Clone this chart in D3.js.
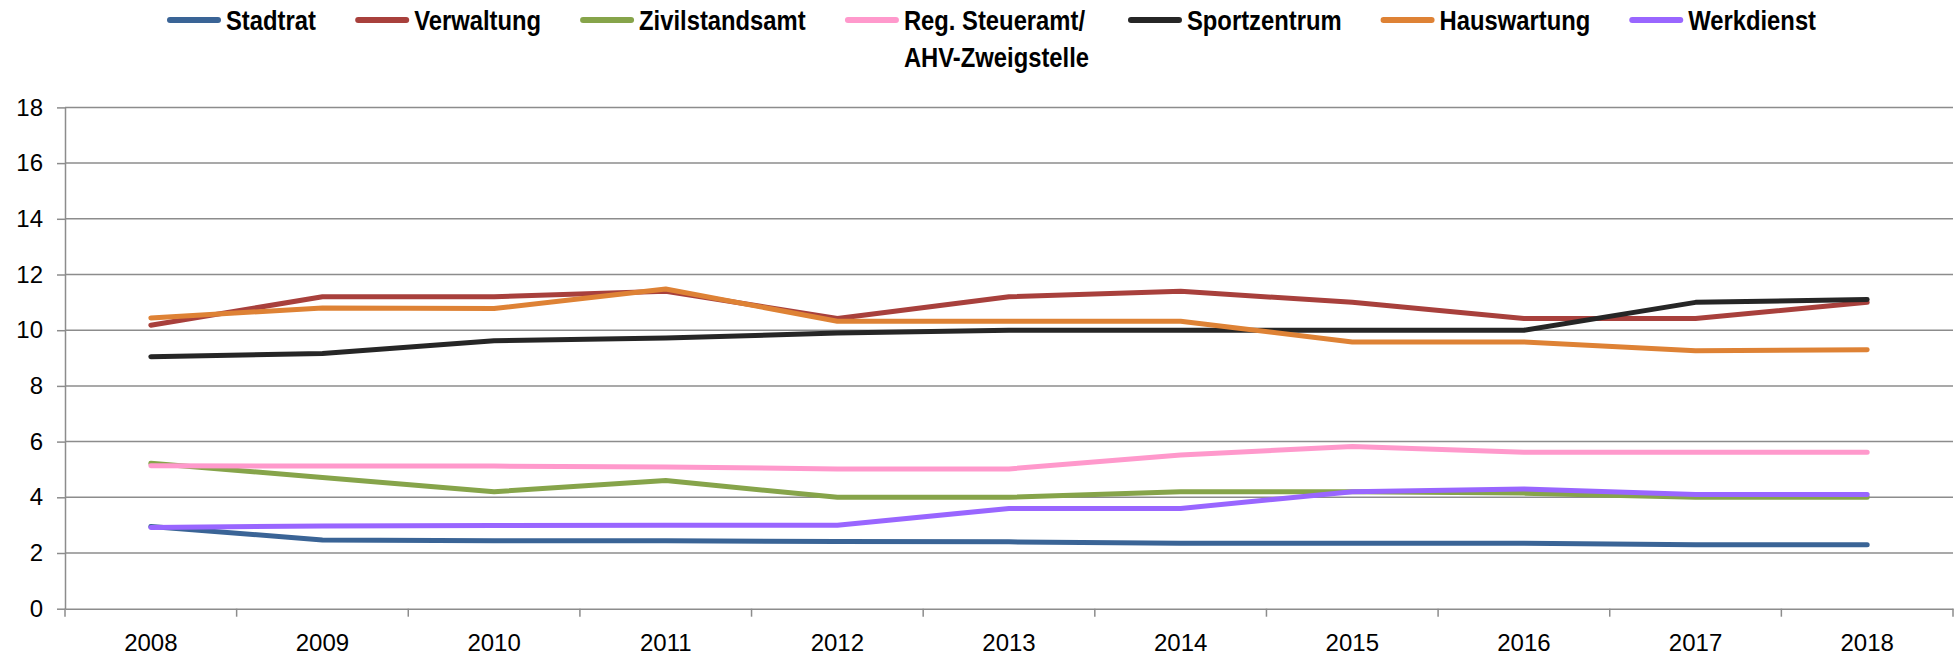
<!DOCTYPE html>
<html>
<head>
<meta charset="utf-8">
<script src="https://cdn.jsdelivr.net/npm/d3@7"></script>
<style>
  body { margin: 0; background: #fff; }
  svg text { font-family: "Liberation Sans", Arial, sans-serif; }
  .grid line { stroke: #8c8c8c; stroke-width: 1.5; }
  .axis path, .axis line { stroke: #8c8c8c; stroke-width: 1.5; }
  .axis text { font-size: 24px; fill: #000; }
  .legend text { font-weight: bold; font-size: 28px; }
  .line { fill: none; stroke-width: 5; stroke-linejoin: round; stroke-linecap: round; }
</style>
</head>
<body>
<div id="chart"></div>
<script>
// Stellenprozente pro Abteilung 2008-2018

const years = ["2008", "2009", "2010", "2011", "2012", "2013", "2014", "2015", "2016", "2017", "2018"];

const stadtrat      = [2.95, 2.47, 2.44, 2.44, 2.41, 2.40, 2.35, 2.35, 2.35, 2.30, 2.30];
const verwaltung    = [10.18, 11.2, 11.2, 11.4, 10.42, 11.2, 11.4, 11.0, 10.42, 10.42, 11.0];
const zivilstandsamt = [5.22, 4.71, 4.2, 4.6, 4.0, 4.0, 4.2, 4.2, 4.15, 4.0, 4.0];
const steueramt     = [5.13, 5.12, 5.12, 5.09, 5.02, 5.02, 5.52, 5.82, 5.62, 5.62, 5.62];
const sportzentrum  = [9.05, 9.16, 9.62, 9.72, 9.9, 10.0, 10.0, 10.0, 10.0, 11.0, 11.1];
const hauswartung   = [10.44, 10.8, 10.78, 11.48, 10.32, 10.32, 10.32, 9.58, 9.58, 9.26, 9.3];
const werkdienst    = [2.92, 2.97, 2.99, 3.0, 3.0, 3.6, 3.6, 4.2, 4.3, 4.1, 4.1];

const seriesNames  = ["Stadtrat", "Verwaltung", "Zivilstandsamt", "Reg. Steueramt/\nAHV-Zweigstelle", "Sportzentrum", "Hauswartung", "Werkdienst"];
const seriesValues = [stadtrat, verwaltung, zivilstandsamt, steueramt, sportzentrum, hauswartung, werkdienst];
const seriesColors = ["#3a6496", "#a8403c", "#86a44a", "#ff99cc", "#262626", "#de8235", "#9966ff"];

const yTicks = [0, 2, 4, 6, 8, 10, 12, 14, 16, 18];

let width = 1957, height = 657;
let plot = {left: 65, right: 1953, top: 107.4, bottom: 608.7};

let svg = d3.select("#chart").append("svg")
            .attr("width", width)
            .attr("height", height);

let x = d3.scaleBand()
          .domain(years)
          .range([plot.left, plot.right]);

let y = d3.scaleLinear()
          .domain([0, 18])
          .range([plot.bottom, plot.top]);

// horizontal grid lines
svg.append("g")
   .attr("class", "grid")
   .selectAll("line")
   .data(yTicks.filter(d => d > 0))
   .enter().append("line")
   .attr("x1", plot.left)
   .attr("x2", plot.right)
   .attr("y1", d => y(d))
   .attr("y2", d => y(d));

// y axis
svg.append("g")
   .attr("class", "axis")
   .attr("transform", "translate(" + plot.left + ",0)")
   .call(d3.axisLeft(y).tickValues(yTicks).tickSize(8).tickSizeOuter(0).tickPadding(14));

// x axis, ticks on the category boundaries
let xAxis = svg.append("g")
   .attr("class", "axis")
   .attr("transform", "translate(0," + plot.bottom + ")")
   .call(d3.axisBottom(x).tickSize(0).tickSizeOuter(0).tickPadding(25));

xAxis.selectAll(".bound")
   .data(years.concat(["end"]))
   .enter().append("line")
   .attr("class", "bound")
   .attr("x1", (d, i) => i < years.length ? x(d) : x.range()[1])
   .attr("x2", (d, i) => i < years.length ? x(d) : x.range()[1])
   .attr("y1", 0)
   .attr("y2", 8);

// lines
let line = d3.line()
             .x((d, i) => x(years[i]) + x.bandwidth() / 2)
             .y(d => y(d));

svg.selectAll(".line")
   .data(seriesValues)
   .enter().append("path")
   .attr("class", "line")
   .attr("stroke", (d, i) => seriesColors[i])
   .attr("d", line);

// legend (text squeezed a bit to get the narrow look of the original)
let squeeze = 0.85;
let legend = svg.append("g").attr("class", "legend");
let lx = 168;
seriesNames.forEach(function(name, i) {
  let g = legend.append("g").attr("transform", "translate(" + lx + ",0)");
  g.append("line")
   .attr("x1", 2).attr("x2", 50)
   .attr("y1", 20).attr("y2", 20)
   .attr("stroke", seriesColors[i])
   .attr("stroke-width", 6)
   .attr("stroke-linecap", "round");
  let t = g.append("text")
   .attr("transform", "translate(58,30) scale(" + squeeze + ",1)");
  name.split("\n").forEach(function(part, k) {
    t.append("tspan").attr("x", 0).attr("dy", k === 0 ? 0 : 37).text(part);
  });
  lx += 58 + t.node().getBBox().width * squeeze + 40;
});
</script>
</body>
</html>
